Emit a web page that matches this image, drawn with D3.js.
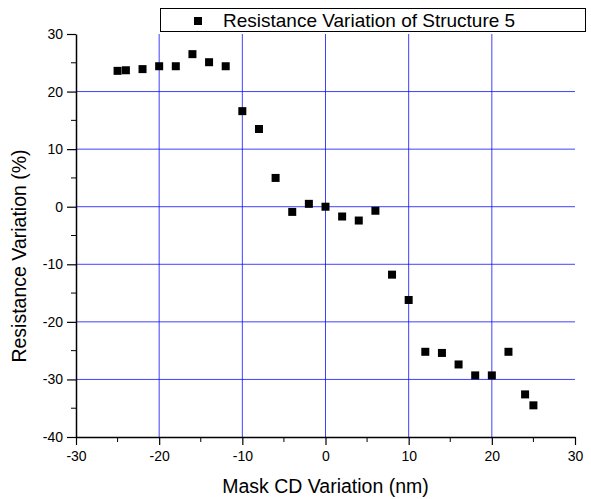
<!DOCTYPE html>
<html>
<head>
<meta charset="utf-8">
<script src="https://cdn.jsdelivr.net/npm/d3@7"></script>
<style>
  body { margin: 0; background: #fff; }
  svg text { font-family: Arial, "Liberation Sans", sans-serif; }
</style>
</head>
<body>
<svg id="chart" width="591" height="499"></svg>
<script>
const cdVariation = [-25, -24, -22, -20, -18, -16, -14, -12, -10, -8, -6, -4, -2, 0, 2, 4, 6, 8, 10, 12, 14, 16, 18, 20, 22, 24, 25]
const resVariation = [23.6, 23.7, 23.9, 24.4, 24.4, 26.5, 25.1, 24.4, 16.6, 13.5, 5.0, -0.9, 0.5, 0, -1.7, -2.4, -0.7, -11.8, -16.2, -25.2, -25.4, -27.4, -29.3, -29.3, -25.2, -32.6, -34.5]
const xTicks = [-30, -20, -10, 0, 10, 20, 30]
const yTicks = [-40, -30, -20, -10, 0, 10, 20, 30]
const seriesName = 'Resistance Variation of Structure 5'

const svg = d3.select('#chart')
const margin = {left: 76, right: 16, top: 34, bottom: 62}
const width = 591, height = 499

const x = d3.scaleLinear().domain([-30, 30]).range([margin.left, width - margin.right])
const y = d3.scaleLinear().domain([-40, 30]).range([height - margin.bottom, margin.top])
const fmt = d => String(d)

// grid
svg.append('g').selectAll('line')
    .data(xTicks.filter(d => d > -30 && d < 30))
    .enter().append('line')
    .attr('x1', d => x(d)).attr('x2', d => x(d))
    .attr('y1', y(30)).attr('y2', y(-40))
    .attr('stroke', '#0000ff').attr('stroke-opacity', 0.75).attr('stroke-width', 1)

svg.append('g').selectAll('line')
    .data(yTicks.filter(d => d > -40 && d < 30))
    .enter().append('line')
    .attr('x1', x(-30)).attr('x2', x(30))
    .attr('y1', d => y(d)).attr('y2', d => y(d))
    .attr('stroke', '#0000ff').attr('stroke-opacity', 0.75).attr('stroke-width', 1)

// minor ticks
const xMinor = d3.range(-25, 30, 10)
const yMinor = d3.range(-35, 30, 10)

const xAxis = svg.append('g')
    .attr('transform', `translate(0,${y(-40)})`)
    .call(d3.axisBottom(x).tickValues(xTicks).tickSize(8).tickSizeOuter(0).tickFormat(fmt))
xAxis.append('g').selectAll('line')
    .data(xMinor).enter().append('line')
    .attr('x1', d => x(d)).attr('x2', d => x(d)).attr('y1', 0).attr('y2', 5)
    .attr('stroke', '#000')

const yAxis = svg.append('g')
    .attr('transform', `translate(${x(-30)},0)`)
    .call(d3.axisLeft(y).tickValues(yTicks).tickSize(9).tickSizeOuter(0).tickFormat(fmt))
yAxis.append('g').selectAll('line')
    .data(yMinor).enter().append('line')
    .attr('y1', d => y(d)).attr('y2', d => y(d)).attr('x1', 0).attr('x2', -5)
    .attr('stroke', '#000')

svg.selectAll('.domain').attr('stroke', '#000').attr('stroke-width', 1.5)
svg.selectAll('.tick line').attr('stroke', '#000').attr('stroke-width', 1.2)
svg.selectAll('.tick text').attr('font-size', 14).attr('fill', '#000')
xAxis.selectAll('.tick text').attr('y', 9).attr('dy', '1.1em')
yAxis.selectAll('.tick text').attr('x', -13)

// axis titles
svg.append('text')
    .attr('x', x(0)).attr('y', 493)
    .attr('text-anchor', 'middle').attr('font-size', 19.5)
    .text('Mask CD Variation (nm)')

svg.append('text')
    .attr('transform', 'translate(26,256) rotate(-90)')
    .attr('text-anchor', 'middle').attr('font-size', 19.5)
    .text('Resistance Variation (%)')

// points
const msize = 8
svg.append('g').selectAll('rect')
    .data(cdVariation)
    .enter().append('rect')
    .attr('x', (d) => x(d) - msize / 2)
    .attr('y', (d, i) => y(resVariation[i]) - msize / 2)
    .attr('width', msize).attr('height', msize)
    .attr('fill', '#000')

// legend
const legend = svg.append('g')
legend.append('rect')
    .attr('x', 160.5).attr('y', 8.5).attr('width', 425).attr('height', 23)
    .attr('fill', '#fff').attr('stroke', '#000').attr('stroke-width', 1)
legend.append('rect')
    .attr('x', 198 - msize / 2).attr('y', 21 - msize / 2)
    .attr('width', msize).attr('height', msize).attr('fill', '#000')
legend.append('text')
    .attr('x', 223).attr('y', 27).attr('font-size', 19)
    .text(seriesName)
</script>
</body>
</html>
